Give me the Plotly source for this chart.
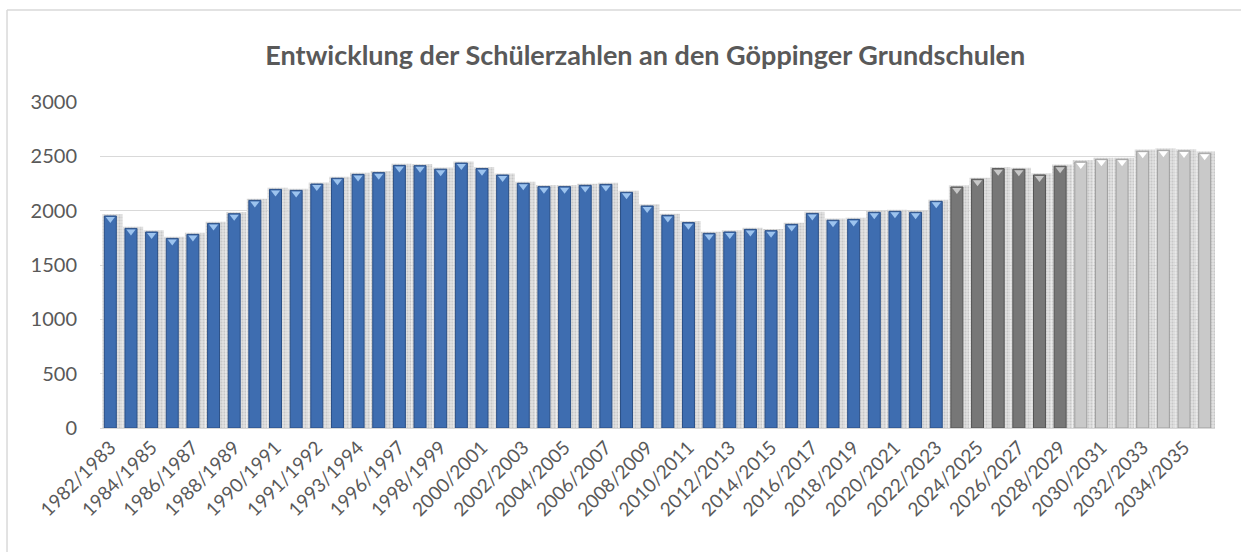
import plotly.graph_objects as go

years = ["1982/1983", "1983/1984", "1984/1985", "1985/1986", "1986/1987", "1987/1988",
         "1988/1989", "1989/1990", "1990/1991", "1990/1991 ", "1991/1992", "1992/1993",
         "1993/1994", "1994/1995", "1996/1997", "1997/1998", "1998/1999", "1999/2000",
         "2000/2001", "2001/2002", "2002/2003", "2003/2004", "2004/2005", "2005/2006",
         "2006/2007", "2007/2008", "2008/2009", "2009/2010", "2010/2011", "2011/2012",
         "2012/2013", "2013/2014", "2014/2015", "2015/2016", "2016/2017", "2017/2018",
         "2018/2019", "2019/2020", "2020/2021", "2021/2022", "2022/2023", "2023/2024",
         "2024/2025", "2025/2026", "2026/2027", "2027/2028", "2028/2029", "2029/2030",
         "2030/2031", "2031/2032", "2032/2033", "2033/2034", "2034/2035", "2035/2036"]

actual = [1951, 1837, 1804, 1745, 1782, 1883, 1972, 2095, 2196, 2187, 2245, 2298,
          2334, 2350, 2417, 2414, 2382, 2438, 2387, 2328, 2252, 2221, 2221, 2233,
          2242, 2169, 2043, 1957, 1890, 1791, 1804, 1828, 1816, 1874, 1975, 1912,
          1920, 1985, 1994, 1985, 2086]
forecast_near = [2218, 2289, 2387, 2381, 2329, 2409]
forecast_far = [2449, 2473, 2473, 2547, 2556, 2550, 2529]

n_a, n_n, n_f = len(actual), len(forecast_near), len(forecast_far)
xa = list(range(n_a))
xn = list(range(n_a, n_a + n_n))
xf = list(range(n_a + n_n, n_a + n_n + n_f))
all_vals = actual + forecast_near + forecast_far
xall = list(range(len(all_vals)))

fig = go.Figure()

# dithered shadow behind the bars
fig.add_trace(go.Bar(x=[x + 0.1 for x in xall], y=[v + 15 for v in all_vals], width=0.98,
                     marker=dict(color="rgba(222,222,222,0.9)",
                                 pattern=dict(shape=".", fgcolor="rgba(160,160,160,0.8)",
                                              size=3, solidity=0.35),
                                 line=dict(width=0)),
                     hoverinfo="skip", showlegend=False))

groups = [
    (xa, actual, "#3E6DB0", "#2A4F86", "#9CC3EE"),
    (xn, forecast_near, "#777777", "#555555", "#C8C8C8"),
    (xf, forecast_far, "#C9C9C9", "#9E9E9E", "#FFFFFF"),
]
for xs, ys, col, edge, cap in groups:
    fig.add_trace(go.Bar(x=xs, y=ys, width=0.58,
                         marker=dict(color=col, line=dict(color=edge, width=1)),
                         showlegend=False))
    fig.add_trace(go.Scatter(x=xs, y=[v - 28 for v in ys], mode="markers",
                             marker=dict(symbol="triangle-down", size=8, color=cap,
                                         line=dict(width=0)),
                             hoverinfo="skip", showlegend=False))

tickvals = xall[::2]
ticktext = [years[i] for i in tickvals]

fig.update_layout(
    width=1241, height=552,
    barmode="overlay",
    paper_bgcolor="white", plot_bgcolor="white",
    margin=dict(l=100, r=26, t=102, b=124),
    font=dict(family="Lato, Open Sans, sans-serif", color="#595959", size=20),
    title=dict(text="<b>Entwicklung der Schülerzahlen an den Göppinger Grundschulen</b>",
               x=0.52, xanchor="center", y=0.9, yanchor="middle",
               font=dict(size=27, color="#595959")),
    xaxis=dict(range=[-0.5, len(all_vals) - 0.5], tickmode="array",
               tickvals=tickvals, ticktext=ticktext, tickangle=-45,
               showgrid=False, zeroline=False, showline=True, automargin=False,
               linecolor="#D9D9D9", linewidth=1, ticks="",
               tickfont=dict(size=19, color="#595959")),
    yaxis=dict(range=[0, 3000], dtick=500, showgrid=True, gridcolor="#D9D9D9",
               gridwidth=1, zeroline=False, ticks="", ticklabelstandoff=22,
               automargin=False, tickfont=dict(size=20, color="#595959")),
    shapes=[
        dict(type="line", xref="paper", yref="paper", x0=-0.0834, x1=1.1,
             y0=1.282, y1=1.282, line=dict(color="#D9D9D9", width=1.5)),
        dict(type="line", xref="paper", yref="paper", x0=-0.0834, x1=-0.0834,
             y0=-0.5, y1=1.282, line=dict(color="#D9D9D9", width=1.5)),
    ],
)

fig.write_html("out.html", config={"displayModeBar": False},
               post_script="document.body.style.margin='0';"
                           "document.body.style.overflow='hidden';"
                           "document.documentElement.style.overflow='hidden';")
